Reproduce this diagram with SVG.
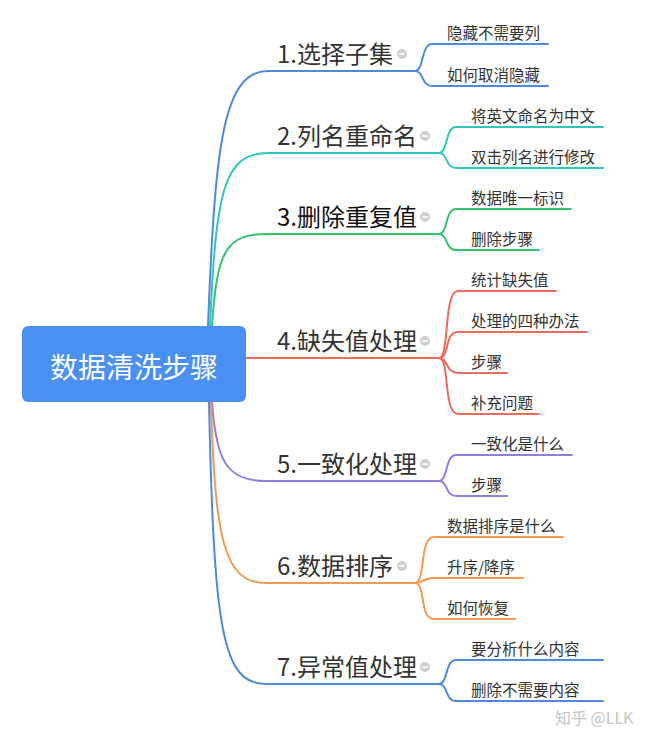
<svg xmlns="http://www.w3.org/2000/svg" width="670" height="747" viewBox="0 0 670 747">
<style>
text{font-family:"Noto Sans CJK SC","Liberation Sans",sans-serif;}
.b{font-size:24px;fill:#333;}
.c{font-size:15.5px;fill:#333;}
.l{fill:none;stroke-width:2;stroke-linecap:round;}
.blue{stroke:#5089dc;}
.teal{stroke:#2fc7bc;}
.green{stroke:#30c46f;}
.red{stroke:#ec6b5e;}
.purple{stroke:#8e80da;}
.orange{stroke:#f29a52;}
.tog circle{fill:#cfcfcf;}
.tog line{stroke:#fff;stroke-width:1.6;}
</style>
<rect width="670" height="747" fill="#fff"/>
<g id="connectors">
<path class="l blue" d="M208,326 C215,150 222,71 268,71 H415"/>
<path class="l teal" d="M210,326 C216,190 224,153 268,153 H439"/>
<path class="l green" d="M212,326 C217,250 226,234 268,234 H439"/>
<path class="l red" d="M246,358 H439"/>
<path class="l purple" d="M212,402 C216,460 226,481 266,481 H439"/>
<path class="l orange" d="M211,402 C215,540 224,583 266,583 H415"/>
<path class="l blue" d="M209,402 C214,630 222,684 266,684 H439"/>
<path class="l blue" d="M415,71 C424,71 421,44 432,44 H548"/>
<path class="l blue" d="M415,71 C424,71 421,86 432,86 H548"/>
<path class="l teal" d="M439,153 C448,153 445,127 456,127 H603"/>
<path class="l teal" d="M439,153 C448,153 445,168 456,168 H603"/>
<path class="l green" d="M439,234 C448,234 445,209 456,209 H571"/>
<path class="l green" d="M439,234 C448,234 445,250 456,250 H539"/>
<path class="l red" d="M439,358 C450,358 443,291 458,291 H556"/>
<path class="l red" d="M439,358 C450,358 444,332 458,332 H587"/>
<path class="l red" d="M439,358 C448,358 446,373 458,373 H507"/>
<path class="l red" d="M439,358 C450,358 443,414 458,414 H539"/>
<path class="l purple" d="M439,481 C448,481 445,455 456,455 H572"/>
<path class="l purple" d="M439,481 C448,481 445,496 456,496 H507"/>
<path class="l orange" d="M415,583 C426,583 419,537 434,537 H563"/>
<path class="l orange" d="M415,583 C424,583 422,578 434,578 H523"/>
<path class="l orange" d="M415,583 C426,583 419,619 434,619 H515"/>
<path class="l blue" d="M439,684 C448,684 445,660 456,660 H603"/>
<path class="l blue" d="M439,684 C448,684 445,701 456,701 H603"/>
</g>
<g id="root">
<rect x="22" y="326" width="224" height="76" rx="6" fill="#4a8ff2"/>
<text x="134" y="378" font-size="28" fill="#fff" text-anchor="middle">数据清洗步骤</text>
</g>
<g id="b1"><text class="b" x="277" y="63">1.选择子集</text><g class="tog"><circle cx="402" cy="54" r="5"/><line x1="399" y1="54" x2="405" y2="54"/></g></g>
<g id="b1c1"><text class="c" x="447" y="39">隐藏不需要列</text></g>
<g id="b1c2"><text class="c" x="447" y="81">如何取消隐藏</text></g>
<g id="b2"><text class="b" x="277" y="145">2.列名重命名</text><g class="tog"><circle cx="425" cy="136" r="5"/><line x1="422" y1="136" x2="428" y2="136"/></g></g>
<g id="b2c1"><text class="c" x="471" y="122">将英文命名为中文</text></g>
<g id="b2c2"><text class="c" x="471" y="163">双击列名进行修改</text></g>
<g id="b3"><text class="b" x="277" y="226" fill="#111" style="fill:#111">3.删除重复值</text><g class="tog"><circle cx="425" cy="217" r="5"/><line x1="422" y1="217" x2="428" y2="217"/></g></g>
<g id="b3c1"><text class="c" x="471" y="204">数据唯一标识</text></g>
<g id="b3c2"><text class="c" x="471" y="245">删除步骤</text></g>
<g id="b4"><text class="b" x="277" y="350">4.缺失值处理</text><g class="tog"><circle cx="425" cy="341" r="5"/><line x1="422" y1="341" x2="428" y2="341"/></g></g>
<g id="b4c1"><text class="c" x="471" y="286">统计缺失值</text></g>
<g id="b4c2"><text class="c" x="471" y="327">处理的四种办法</text></g>
<g id="b4c3"><text class="c" x="471" y="368">步骤</text></g>
<g id="b4c4"><text class="c" x="471" y="409">补充问题</text></g>
<g id="b5"><text class="b" x="277" y="473">5.一致化处理</text><g class="tog"><circle cx="425" cy="464" r="5"/><line x1="422" y1="464" x2="428" y2="464"/></g></g>
<g id="b5c1"><text class="c" x="471" y="450">一致化是什么</text></g>
<g id="b5c2"><text class="c" x="471" y="491">步骤</text></g>
<g id="b6"><text class="b" x="277" y="575">6.数据排序</text><g class="tog"><circle cx="402" cy="566" r="5"/><line x1="399" y1="566" x2="405" y2="566"/></g></g>
<g id="b6c1"><text class="c" x="447" y="532">数据排序是什么</text></g>
<g id="b6c2"><text class="c" x="447" y="573">升序/降序</text></g>
<g id="b6c3"><text class="c" x="447" y="614">如何恢复</text></g>
<g id="b7"><text class="b" x="277" y="676">7.异常值处理</text><g class="tog"><circle cx="425" cy="667" r="5"/><line x1="422" y1="667" x2="428" y2="667"/></g></g>
<g id="b7c1"><text class="c" x="471" y="655">要分析什么内容</text></g>
<g id="b7c2"><text class="c" x="471" y="696">删除不需要内容</text></g>
<text x="555" y="724" font-size="16" fill="#c4c4c4">知乎 @LLK</text>
</svg>
